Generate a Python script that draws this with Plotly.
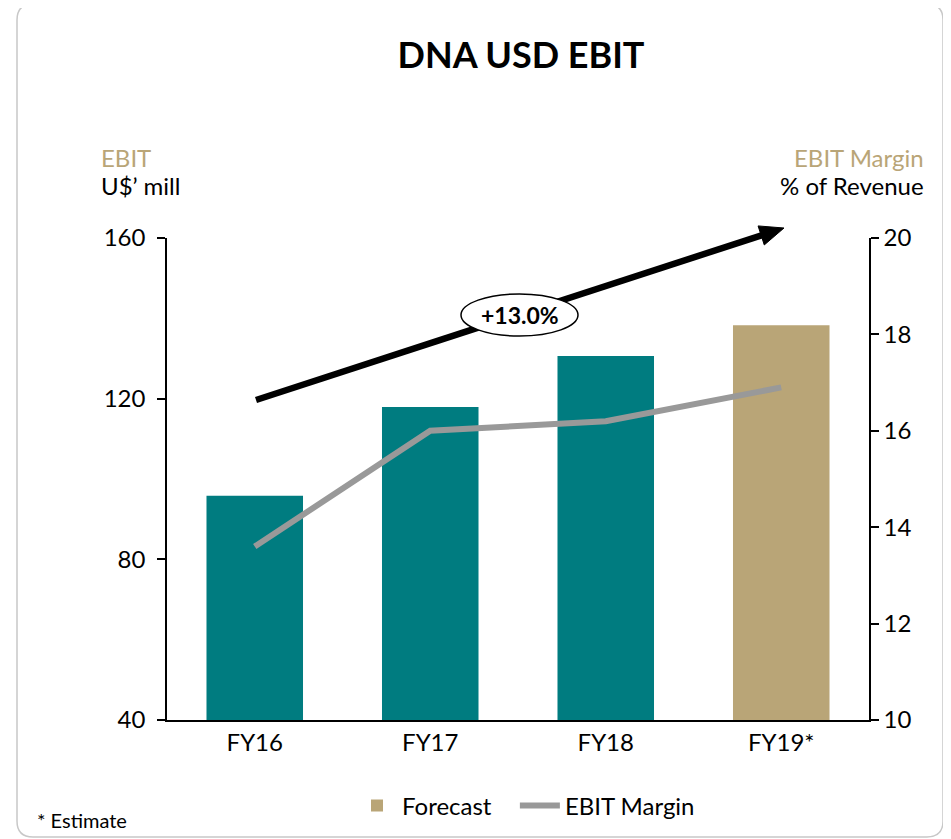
import plotly.graph_objects as go

# ---- data ----
categories = ["FY16", "FY17", "FY18", "FY19*"]
ebit = [95.8, 117.9, 130.6, 138.3]          # US$ mill
ebit_margin = [13.6, 16.0, 16.2, 16.9]      # % of revenue
is_forecast = [False, False, False, True]
left_ticks = [40, 80, 120, 160]
right_ticks = [10, 12, 14, 16, 18, 20]
growth_label = "+13.0%"

TEAL = "#007C80"
TAN = "#B9A577"
GRAY = "#999999"
FONT = "Lato"

OFF = 8                      # page body margin in the browser
W, H = 951 - OFF, 839 - OFF  # figure size
L, R, T, B = 167, 869, 238, 720   # plot area in page pixels


def px(p):
    return (p - L) / (R - L)


def py(p):
    return (B - p) / (B - T)


act_x = [c for c, f in zip(categories, is_forecast) if not f]
act_y = [v for v, f in zip(ebit, is_forecast) if not f]
fc_x = [c for c, f in zip(categories, is_forecast) if f]
fc_y = [v for v, f in zip(ebit, is_forecast) if f]

fig = go.Figure()
fig.add_trace(go.Bar(x=act_x, y=act_y, marker=dict(color=TEAL, line=dict(width=0)),
                     showlegend=False, name="EBIT"))
fig.add_trace(go.Bar(x=fc_x, y=fc_y, marker=dict(color=TAN, line=dict(width=0)),
                     name="Forecast\u00a0\u00a0\u00a0"))
fig.add_trace(go.Scatter(x=categories, y=ebit_margin, yaxis="y2", mode="lines",
                         line=dict(color=GRAY, width=6), name="EBIT Margin"))

# ---- decorations (page pixel -> paper) ----
shapes = []
x0, x1, y0, y1, r = 17, 943, 4, 837, 16
path = (f"M {px(x0+r)},{py(y0)} L {px(x1-r)},{py(y0)} Q {px(x1)},{py(y0)} {px(x1)},{py(y0+r)} "
        f"L {px(x1)},{py(y1-r)} Q {px(x1)},{py(y1)} {px(x1-r)},{py(y1)} "
        f"L {px(x0+r)},{py(y1)} Q {px(x0)},{py(y1)} {px(x0)},{py(y1-r)} "
        f"L {px(x0)},{py(y0+r)} Q {px(x0)},{py(y0)} {px(x0+r)},{py(y0)} Z")
shapes.append(dict(type="path", xref="paper", yref="paper", path=path,
                   line=dict(color="#C8C8C8", width=1.5), layer="below"))

# growth arrow
tx, ty, hx, hy = 256, 400, 784, 228
dx, dy = hx - tx, hy - ty
ln = (dx ** 2 + dy ** 2) ** 0.5
ux, uy = dx / ln, dy / ln
hl, hw = 24, 10
bx, by = hx - hl * ux, hy - hl * uy
shapes.append(dict(type="line", xref="paper", yref="paper",
                   x0=px(tx), y0=py(ty), x1=px(bx + 2 * ux), y1=py(by + 2 * uy),
                   line=dict(color="black", width=6.5), layer="above"))
p1 = (bx - uy * hw, by + ux * hw)
p2 = (bx + uy * hw, by - ux * hw)
shapes.append(dict(type="path", xref="paper", yref="paper",
                   path=f"M {px(hx)},{py(hy)} L {px(p1[0])},{py(p1[1])} L {px(p2[0])},{py(p2[1])} Z",
                   fillcolor="black", line=dict(color="black", width=1), layer="above"))
shapes.append(dict(type="circle", xref="paper", yref="paper",
                   x0=px(461), x1=px(578), y0=py(336), y1=py(294),
                   fillcolor="white", line=dict(color="black", width=1.5), layer="above"))

annotations = [
    dict(text=f"<b>{growth_label}</b>", x=px(519.5), y=py(315), xref="paper", yref="paper",
         showarrow=False, font=dict(family=FONT, size=23, color="black"),
         xanchor="center", yanchor="middle"),
    dict(text="EBIT", x=px(99), y=py(158), xref="paper", yref="paper", showarrow=False,
         xanchor="left", yanchor="middle", font=dict(family=FONT, size=24, color=TAN)),
    dict(text="U$’ mill", x=px(99), y=py(186), xref="paper", yref="paper", showarrow=False,
         xanchor="left", yanchor="middle", font=dict(family=FONT, size=24, color="black")),
    dict(text="EBIT Margin", x=px(926), y=py(158), xref="paper", yref="paper", showarrow=False,
         xanchor="right", yanchor="middle", font=dict(family=FONT, size=24, color=TAN)),
    dict(text="% of Revenue", x=px(926), y=py(186), xref="paper", yref="paper", showarrow=False,
         xanchor="right", yanchor="middle", font=dict(family=FONT, size=24, color="black")),
    dict(text="* Estimate", x=px(35), y=py(820), xref="paper", yref="paper", showarrow=False,
         xanchor="left", yanchor="middle", font=dict(family=FONT, size=20, color="black")),
]

fig.update_layout(
    width=W, height=H,
    margin=dict(l=L - OFF, r=W - (R - OFF), t=T - OFF, b=H - (B - OFF), autoexpand=False),
    paper_bgcolor="white", plot_bgcolor="white",
    barmode="overlay", bargap=0.45,
    font=dict(family=FONT, size=24, color="black"),
    title=dict(text="<b>DNA USD EBIT</b>", x=(521 - OFF) / W, xref="container",
               xanchor="center", y=1 - (55 - OFF) / H, yanchor="middle",
               font=dict(family=FONT, size=36, color="black")),
    xaxis=dict(type="category", categoryorder="array", categoryarray=categories,
               showline=True, linecolor="black", linewidth=1.5, ticks="",
               tickfont=dict(family=FONT, size=24), showgrid=False, zeroline=False),
    yaxis=dict(range=[40, 160], tickvals=left_ticks, showline=True, linecolor="black",
               linewidth=1.5, ticks="outside", ticklen=8, tickwidth=1.5, tickcolor="black",
               ticklabelstandoff=7,
               showgrid=False, zeroline=False, tickfont=dict(family=FONT, size=24)),
    yaxis2=dict(range=[10, 20], tickvals=right_ticks, overlaying="y", side="right",
                showline=True, linecolor="black", linewidth=1.5, ticks="outside", ticklen=8,
                tickwidth=1.5, tickcolor="black", showgrid=False, zeroline=False,
                tickfont=dict(family=FONT, size=24)),
    legend=dict(orientation="h", x=px(352), y=py(806), xanchor="left", yanchor="middle",
                font=dict(family=FONT, size=24), bgcolor="rgba(0,0,0,0)", itemwidth=40),
    shapes=shapes,
    annotations=annotations,
)

fig.write_html("out.html")
